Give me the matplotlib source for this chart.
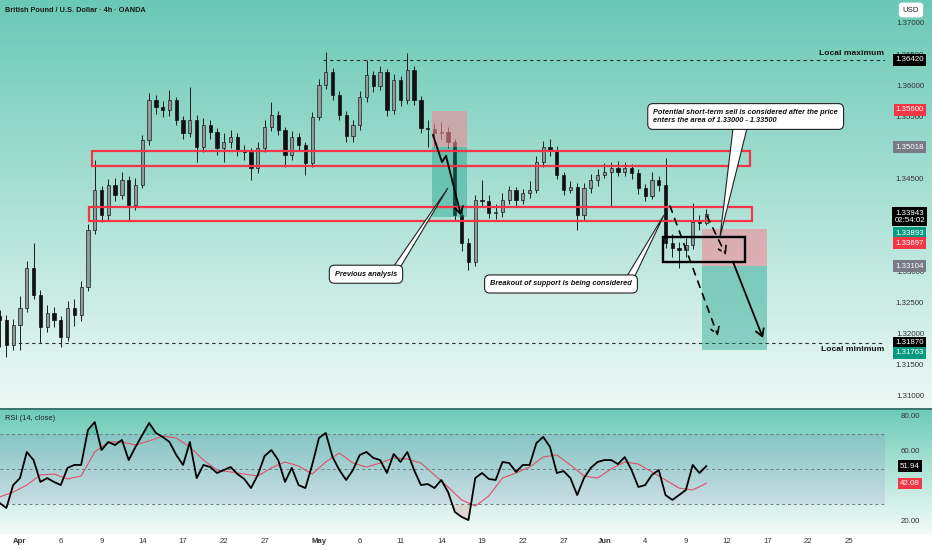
import numpy as np
import matplotlib.pyplot as plt
from matplotlib.patches import Rectangle, Polygon
from matplotlib.transforms import blended_transform_factory

plt.rcParams['font.family'] = ['Liberation Sans', 'DejaVu Sans']

# GBPUSD, 12h candles, x = trading days counted from Apr 1
first_open = 1.3230
closes = [
    1.3224, 1.3184, 1.3216, 1.3243, 1.3308, 1.3264, 1.3213, 1.3235, 1.3224, 1.3197,
    1.3243, 1.3232, 1.3277, 1.3369, 1.3433, 1.3393, 1.3441, 1.3425, 1.3449, 1.3409,
    1.3441, 1.3513, 1.3578, 1.3567, 1.3562, 1.3578, 1.3546, 1.3525, 1.3546, 1.3502,
    1.3538, 1.3526, 1.3501, 1.3510, 1.3518, 1.3497, 1.3494, 1.3468, 1.3501, 1.3534,
    1.3554, 1.3530, 1.3489, 1.3518, 1.3505, 1.3477, 1.3550, 1.3602, 1.3623, 1.3586,
    1.3554, 1.3520, 1.3538, 1.3583, 1.3618, 1.3600, 1.3623, 1.3562, 1.3610, 1.3578,
    1.3626, 1.3578, 1.3533, 1.3531, 1.3525, 1.3527, 1.3510, 1.3393, 1.3348, 1.3317,
    1.3417, 1.3415, 1.3396, 1.3398, 1.3417, 1.3433, 1.3417, 1.3428, 1.3433, 1.3478,
    1.3502, 1.3497, 1.3457, 1.3433, 1.3438, 1.3393, 1.3436, 1.3449, 1.3457, 1.3462,
    1.3468, 1.3462, 1.3468, 1.3460, 1.3436, 1.3423, 1.3449, 1.3441, 1.3348, 1.3340,
    1.3337, 1.3345, 1.3382, 1.3380, 1.33943]
highs = [
    1.3240, 1.3232, 1.3226, 1.3262, 1.3318, 1.3348, 1.3272, 1.3248, 1.3245, 1.3230,
    1.3255, 1.3258, 1.3286, 1.3378, 1.3481, 1.3440, 1.3450, 1.3452, 1.3462, 1.3455,
    1.3452, 1.3522, 1.3589, 1.3585, 1.3576, 1.3594, 1.3583, 1.3552, 1.3599, 1.3553,
    1.3548, 1.3545, 1.3532, 1.3525, 1.3530, 1.3524, 1.3505, 1.3500, 1.3510, 1.3545,
    1.3575, 1.3560, 1.3535, 1.3528, 1.3525, 1.3510, 1.3558, 1.3612, 1.3655, 1.3630,
    1.3592, 1.3560, 1.3546, 1.3592, 1.3642, 1.3625, 1.3632, 1.3628, 1.3620, 1.3616,
    1.3653, 1.3632, 1.3584, 1.3545, 1.3540, 1.3542, 1.3535, 1.3515, 1.3400, 1.3356,
    1.3425, 1.3449, 1.3425, 1.3410, 1.3428, 1.3440, 1.3438, 1.3435, 1.3448, 1.3488,
    1.3512, 1.3515, 1.3503, 1.3462, 1.3448, 1.3444, 1.3445, 1.3458, 1.3467, 1.3476,
    1.3478, 1.3480, 1.3478, 1.3475, 1.3466, 1.3442, 1.3462, 1.3456, 1.3485, 1.3362,
    1.3350, 1.3355, 1.3412, 1.3392, 1.3402]
lows = [
    1.3180, 1.3165, 1.3176, 1.3175, 1.3236, 1.3258, 1.3187, 1.3205, 1.3212, 1.3181,
    1.3190, 1.3214, 1.3222, 1.3270, 1.3362, 1.3381, 1.3385, 1.3415, 1.3418, 1.3385,
    1.3400, 1.3436, 1.3505, 1.3555, 1.3550, 1.3552, 1.3538, 1.3515, 1.3518, 1.3478,
    1.3494, 1.3515, 1.3490, 1.3478, 1.3500, 1.3488, 1.3482, 1.3449, 1.3460, 1.3494,
    1.3528, 1.3522, 1.3470, 1.3482, 1.3495, 1.3457, 1.3470, 1.3545, 1.3595, 1.3578,
    1.3545, 1.3510, 1.3510, 1.3530, 1.3575, 1.3590, 1.3594, 1.3552, 1.3555, 1.3568,
    1.3572, 1.3570, 1.3525, 1.3502, 1.3502, 1.3515, 1.3500, 1.3385, 1.3335, 1.3304,
    1.3310, 1.3405, 1.3388, 1.3386, 1.3390, 1.3410, 1.3405, 1.3410, 1.3420, 1.3428,
    1.3470, 1.3488, 1.3450, 1.3425, 1.3428, 1.3369, 1.3385, 1.3428, 1.3440, 1.3452,
    1.3405, 1.3455, 1.3455, 1.3450, 1.3426, 1.3415, 1.3418, 1.3432, 1.3340, 1.3325,
    1.3308, 1.3325, 1.3338, 1.3368, 1.3376]

rsi = [
    30.9, 28.0, 41.1, 45.1, 60.0, 55.4, 42.9, 45.1, 42.9, 41.1,
    50.9, 52.6, 52.6, 72.6, 77.1, 61.1, 65.7, 64.0, 66.9, 55.4,
    62.9, 69.7, 76.6, 70.9, 68.6, 65.7, 58.3, 52.6, 65.7, 45.1,
    52.6, 51.4, 48.0, 49.7, 51.4, 47.4, 44.6, 39.4, 46.9, 57.7,
    61.1, 55.4, 42.9, 50.9, 41.1, 39.4, 52.6, 68.0, 70.9, 57.1,
    49.7, 44.0, 49.7, 58.3, 60.0, 56.6, 55.4, 48.0, 58.9, 54.3,
    60.0, 49.7, 41.1, 41.7, 39.4, 44.0, 37.1, 25.7, 22.9, 21.1,
    45.1, 48.0, 44.6, 44.0, 54.3, 53.7, 48.6, 52.6, 52.6, 65.1,
    68.6, 62.9, 48.0, 49.1, 45.1, 35.4, 45.1, 50.9, 54.3, 55.4,
    55.4, 53.1, 57.1, 49.7, 40.0, 41.1, 46.9, 49.7, 35.4, 32.6,
    35.4, 38.3, 52.6, 48.0, 51.94]
rsi_ma = [
    34.3, 37.1, 41.1, 46.9, 47.4, 44.6, 46.3, 60.0, 65.7, 65.7,
    64.0, 66.3, 69.1, 68.0, 62.9, 55.4, 49.7, 48.6, 47.4, 46.3,
    50.9, 54.3, 52.0, 47.4, 54.3, 59.4, 53.7, 51.4, 53.7, 56.6,
    56.0, 53.7, 46.9, 40.0, 32.6, 29.1, 34.9, 45.1, 48.0, 51.4,
    57.1, 58.3, 52.6, 46.3, 45.1, 50.3, 54.3, 53.1, 48.6, 44.0,
    39.4, 38.3, 42.08]

tick_labels = ['Apr', '6', '9', '14', '17', '22', '27', 'May', '6', '11', '14',
               '19', '22', '27', 'Jun', '4', '9', '12', '17', '22', '25']
# 1.33500, 1.34000, 1.35000 sit fully under the price tags
price_ticks = [1.310, 1.315, 1.320, 1.325, 1.330, 1.345,
               1.355, 1.360, 1.365, 1.370]
rsi_ticks = [80, 60, 20]

local_max = 1.36420
local_min = 1.31870
zone_upper = (1.3472, 1.3496)
zone_lower = (1.3383, 1.3406)
prev_trade = (1.35600, 1.35018, 1.33893)   # stop, entry, target
new_trade = (1.33697, 1.33104, 1.31763)
sell_area = (1.33172, 1.33574)

W, H = 932, 550
fig = plt.figure(figsize=(W / 100, H / 100), dpi=100)

# background gradient (main pane, separator, rsi pane)
grad = np.ones((H, 1, 3))
top1, bot1 = np.array([106, 201, 181]) / 255, np.array([238, 249, 246]) / 255
top2, bot2 = np.array([110, 204, 184]) / 255, np.array([246, 252, 250]) / 255
for r in range(H):
    if r < 408:
        t = r / 408
        grad[r, 0] = top1 * (1 - t) + bot1 * t
    elif r < 410:
        grad[r, 0] = np.array([60, 120, 110]) / 255
    elif r < 535:
        t = (r - 410) / 125
        grad[r, 0] = top2 * (1 - t) + bot2 * t
bg = fig.add_axes([0, 0, 1, 1], zorder=-5)
bg.imshow(grad, aspect='auto', extent=[0, 1, 0, 1])
bg.set_axis_off()

pw = 885 / W
ax = fig.add_axes([0, 1 - 408 / H, pw, 408 / H])
ax.set_facecolor('none')
ax.set_xlim(-1.47, 63.65)
ax.set_ylim(1.30823, 1.37386)
ax.set_axis_off()

rax = fig.add_axes([0, 1 - 535 / H, pw, 125 / H])
rax.set_facecolor('none')
rax.set_xlim(-1.47, 63.65)
rax.set_ylim(12.57, 84.0)
for s in rax.spines.values():
    s.set_visible(False)
rax.set_yticks([])

# candles
n = len(closes)
x = -1.5 + 0.5 * np.arange(n)
c = np.array(closes)
o = np.array([first_open] + closes[:-1])
up = c >= o
ax.vlines(x, lows, highs, color='#1c1c1c', lw=0.7, zorder=2)
ax.bar(x[up], (c - o)[up], bottom=o[up], width=0.24, color='#8e9c99',
       edgecolor='#1c1c1c', linewidth=0.5, zorder=3)
ax.bar(x[~up], (o - c)[~up], bottom=c[~up], width=0.24, color='#111111',
       edgecolor='#111111', linewidth=0.5, zorder=3)

# local max / min
lbl_tr = blended_transform_factory(ax.transAxes, ax.transData)
ax.hlines(local_max, 22.3, 63.65, color='#2b2b2b', lw=0.8, ls=(0, (3, 3)), zorder=2)
ax.hlines(local_min, -1.1, 63.65, color='#2b2b2b', lw=0.8, ls=(0, (3, 3)), zorder=2)
ax.text(0.999, local_max + 0.0011, 'Local maximum', transform=lbl_tr,
        ha='right', va='center', fontsize=6.1, fontweight='bold', color='#111')
ax.text(0.999, local_min - 0.0011, 'Local minimum', transform=lbl_tr,
        ha='right', va='center', fontsize=6.1, fontweight='bold', color='#111')

# support / resistance zones
ax.add_patch(Rectangle((5.30, zone_upper[0]), 48.42, zone_upper[1] - zone_upper[0],
                       fill=False, ec='#f23645', lw=1.6, zorder=5))
ax.add_patch(Rectangle((5.08, zone_lower[0]), 48.78, zone_lower[1] - zone_lower[0],
                       fill=False, ec='#f23645', lw=1.6, zorder=5))

# position boxes
for x0, x1, (stop, entry, tgt) in [(30.32, 32.89, prev_trade), (50.18, 54.97, new_trade)]:
    ax.add_patch(Rectangle((x0, entry), x1 - x0, stop - entry, fc='#f08a95', alpha=0.6, lw=0, zorder=4))
    ax.add_patch(Rectangle((x0, tgt), x1 - x0, entry - tgt, fc='#089981', alpha=0.38, lw=0, zorder=4))

ax.add_patch(Rectangle((47.31, sell_area[0]), 6.04, sell_area[1] - sell_area[0],
                       fill=False, ec='#000', lw=1.7, zorder=6))

# drawn paths
ax.plot([30.39, 31.05, 31.35], [1.35215, 1.34780, 1.34877], color='#000', lw=1.3, zorder=6)
arrow_kw = dict(arrowstyle='->,head_length=0.5,head_width=0.3', color='#000', lw=1.3, shrinkA=0, shrinkB=0)
ax.annotate('', xy=(32.45, 1.33920), xytext=(31.35, 1.34877), arrowprops=arrow_kw, zorder=6)
ax.annotate('', xy=(54.67, 1.31949), xytext=(52.47, 1.33172), arrowprops=arrow_kw, zorder=6)
dash_kw = dict(arrowstyle='->,head_length=0.5,head_width=0.3', color='#000', lw=1.2,
               ls=(0, (4, 4)), shrinkA=0, shrinkB=0)
ax.annotate('', xy=(51.36, 1.31981), xytext=(47.83, 1.34072), arrowprops=dash_kw, zorder=6)
ax.annotate('', xy=(51.95, 1.33284), xytext=(50.55, 1.33912), arrowprops=dash_kw, zorder=6)

# callouts
box = dict(boxstyle='round,pad=0.75,rounding_size=0.7', fc='white', ec='#222', lw=0.8)
callouts = [
    ('Previous analysis', 25.46, 1.32975, 'center',
     [(27.52, 1.33108), (28.04, 1.33108), (31.49, 1.34362)]),
    ('Breakout of support is being considered', 39.81, 1.32818, 'center',
     [(44.67, 1.32947), (45.25, 1.32947), (47.39, 1.33928)]),
    ('Potential short-term sell is considered after the price\nenters the area of 1.33000 - 1.33500',
     46.60, 1.35512, 'left', [(52.47, 1.35327), (53.50, 1.35327), (51.51, 1.33574)]),
]
for txt, tx, ty, ha, wedge in callouts:
    ax.add_patch(Polygon(wedge, closed=True, fc='white', ec='#222', lw=0.8, zorder=7))
    ax.text(tx, ty, txt, ha=ha, va='center', fontsize=5.3,
            fontweight='bold', fontstyle='italic', color='#111', bbox=box, zorder=8,
            linespacing=1.15)

# right price scale
tr = blended_transform_factory(ax.transAxes, ax.transData)
for p in price_ticks:
    ax.text(1.0282, p, f'{p:.5f}', transform=tr, ha='center', va='center',
            fontsize=5.7, color='#333', clip_on=False)
price_tags = [
    ('1.36420', 1.36421, '#000000'),
    ('1.35600', 1.35617, '#f23645'),
    ('1.35018', 1.35018, '#787b86'),
    ('1.33943\n02:54:02', 1.33896, '#000000'),
    ('1.33893', 1.33638, '#089981'),
    ('1.33697', 1.33477, '#f23645'),
    ('1.33104', 1.33107, '#787b86'),
    ('1.31870', 1.31869, '#000000'),
    ('1.31763', 1.31708, '#089981'),
]
for label, yp, col in price_tags:
    ax.text(1.0282, yp, label, transform=tr, ha='center', va='center', fontsize=5.7,
            color='white', clip_on=False, linespacing=1.1, zorder=10,
            bbox=dict(boxstyle='square,pad=0.28', fc=col, ec='none'))

# rsi pane
rx = -1.5 + 0.5 * np.arange(len(rsi))
mx = -1.5 + 1.0 * np.arange(len(rsi_ma))
rax.fill_between([-1.47, 63.65], 30, 70, color='#7e57c2', alpha=0.12, lw=0, zorder=1)
for lvl in (70, 50, 30):
    rax.axhline(lvl, color='#6b7b80', lw=0.7, ls=(0, (3, 3)), zorder=2)
ra = np.array(rsi)
rax.fill_between(rx, ra, 30, where=ra < 30, interpolate=True, color='#f23645', alpha=0.15, lw=0, zorder=2)
rax.fill_between(rx, ra, 70, where=ra > 70, interpolate=True, color='#089981', alpha=0.25, lw=0, zorder=2)
rax.plot(mx, rsi_ma, color='#e0506a', lw=0.8, zorder=3)
rax.plot(rx, rsi, color='#000', lw=1.3, zorder=4)
rtr = blended_transform_factory(rax.transAxes, rax.transData)
for v in rsi_ticks:
    rax.text(1.0282, v, f'{v:.2f}', transform=rtr, ha='center', va='center', fontsize=5.7,
             color='#333', clip_on=False)
for label, v, col in [('51.94', 51.94, '#000000'), ('42.08', 42.08, '#f23645')]:
    rax.text(1.0282, v, label, transform=rtr, ha='center', va='center', fontsize=5.7,
             color='white', clip_on=False, zorder=10,
             bbox=dict(boxstyle='square,pad=0.28', fc=col, ec='none'))

rax.set_xticks([0, 3, 6, 9, 12, 15, 18, 22, 25, 28, 31, 34, 37, 40, 43, 46, 49, 52, 55, 58, 61])
rax.set_xticklabels(tick_labels)
rax.tick_params(axis='x', length=0, pad=2.5, labelsize=5.6, labelcolor='#333')
for lab in rax.get_xticklabels():
    if lab.get_text() in ('Apr', 'May', 'Jun'):
        lab.set_fontweight('bold')

fig.text(5 / W, 1 - 10 / H, 'British Pound / U.S. Dollar · 4h · OANDA', ha='left', va='center',
         fontsize=5.3, fontweight='bold', color='#1a1a1a')
fig.text(5 / W, 1 - 418 / H, 'RSI (14, close)', ha='left', va='center', fontsize=5.4, color='#222')
fig.text(911 / W, 1 - 10 / H, 'USD', ha='center', va='center', fontsize=5.6, color='#222',
         bbox=dict(boxstyle='round,pad=0.5,rounding_size=0.4', fc='white', ec='none'))

fig.savefig('out.png', dpi=100)
